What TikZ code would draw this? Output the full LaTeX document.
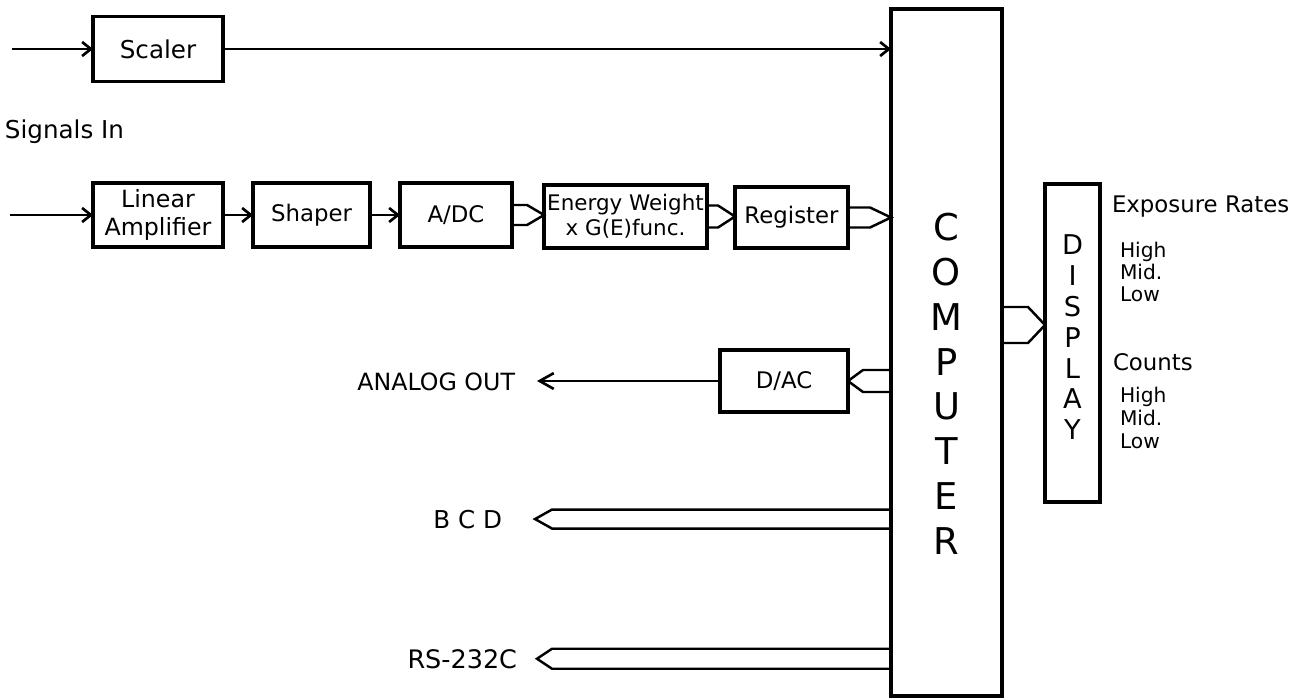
\documentclass[tikz,border=0pt]{standalone}
\usepackage{fontspec}
\setmainfont{DejaVu Sans}
\usetikzlibrary{arrows.meta, calc}

\tikzset{
  box/.style={draw, line width=1.8pt, inner sep=0pt, outer sep=0pt, align=center,
    font=\fontsize{13}{15.5}\selectfont},
  busline/.style={line width=1.4pt, line join=miter},
  sig/.style={->, line width=1.5pt},
  lbl/.style={inner sep=0pt, outer sep=0pt}
}

% hollow bus arrow: start, tip, half width, knee offset
\newcommand{\busarrow}[4]{%
  \draw[busline] ($(#1)+(0,#3)$) -- ($(#2)+(#4,#3)$) -- (#2)
    -- ($(#2)+(#4,-#3)$) -- ($(#1)+(0,-#3)$);}

\begin{document}
\begin{tikzpicture}[x=0.02cm, y=-0.02cm, >={Straight Barb[length=5pt,width=8pt]}]
  \useasboundingbox (0,0) rectangle (1310,699);

  % Signal chain
  \node[box, font=\fontsize{14}{16}\selectfont, minimum width=2.6cm, minimum height=1.3cm] (scaler) at (158,49) {Scaler};
  \node[lbl, font=\fontsize{14}{16}\selectfont, anchor=base west] (signals) at (5,139) {Signals In};
  \node[box, font=\fontsize{13.5}{15.5}\selectfont, minimum width=2.6cm, minimum height=1.28cm] (linamp) at (158,215) {Linear\\Amplifier};
  \node[box, minimum width=2.34cm, minimum height=1.28cm] (shaper) at (311.5,215) {Shaper};
  \node[box, minimum width=2.24cm, minimum height=1.28cm] (adc) at (456,215) {A/DC};
  \node[box, font=\fontsize{12.2}{14}\selectfont, minimum width=3.26cm, minimum height=1.26cm] (energy) at (625.5,216.5) {Energy Weight\\x G(E)func.};
  \node[box, minimum width=2.26cm, minimum height=1.22cm] (reg) at (791.5,217.5) {Register};
  \node[box, minimum width=2.56cm, minimum height=1.24cm] (dac) at (784,381) {D/AC};

  % Computer and display
  \node[box, minimum width=2.22cm, minimum height=13.74cm] (comp) at (946.5,352.5) {};
  \foreach \ch [count=\i from 0] in {C,O,M,P,U,T,E,R}
    \node[lbl, font=\fontsize{21}{21}\selectfont] (comp\i) at (946.5,{227+44.9*\i}) {\ch};
  \node[box, minimum width=1.1cm, minimum height=6.36cm] (disp) at (1072.5,343) {};
  \foreach \ch [count=\i from 0] in {D,I,S,P,L,A,Y}
    \node[lbl, font=\fontsize{15.5}{15.5}\selectfont] (disp\i) at (1072.5,{245+30.8*\i}) {\ch};

  % Inputs and arrows
  \coordinate (in1) at (12,49);
  \coordinate (in2) at (10,215);
  \draw[sig] (in1) -- (scaler.west);
  \draw[sig] (scaler.east) -- (scaler.east -| comp.west);
  \draw[sig] (in2) -- (linamp.west);
  \draw[sig] (linamp.east) -- (shaper.west);
  \draw[sig] (shaper.east) -- (adc.west);

  % Buses
  \coordinate (tipE) at (energy.west |- adc.east);
  \busarrow{adc.east}{tipE}{10}{-17}
  \coordinate (tipR) at (reg.west |- energy.east);
  \busarrow{energy.east}{tipR}{11}{-17}
  \coordinate (tipC) at (comp.west |- reg.east);
  \busarrow{reg.east}{tipC}{10}{-21}
  \coordinate (tipD) at ($(disp.west)+(0,-18)$);
  \coordinate (outD) at (comp.east |- tipD);
  \busarrow{outD}{tipD}{18}{-17}
  \coordinate (outA) at (comp.west |- dac.east);
  \busarrow{outA}{dac.east}{11}{15}

  % Outputs
  \node[lbl, font=\fontsize{13.5}{16}\selectfont, anchor=base east] (analog) at (515,390) {ANALOG OUT};
  \coordinate (tipAO) at ($(analog.east)+(22,0)$);
  \draw[sig, -{Straight Barb[length=8pt,width=9pt]}] (dac.west) -- (dac.west -| tipAO);

  \node[lbl, font=\fontsize{14}{16}\selectfont, anchor=base east] (bcd) at (502,528) {B C D};
  \coordinate (tipB) at ($(bcd.east)+(33,0)$);
  \coordinate (outB) at (comp.west |- tipB);
  \busarrow{outB}{tipB}{9.5}{17}

  \node[lbl, font=\fontsize{14.5}{16}\selectfont, anchor=base east] (rs) at (517,668) {RS-232C};
  \coordinate (tipS) at ($(rs.east)+(20,0)$);
  \coordinate (outS) at (comp.west |- tipS);
  \busarrow{outS}{tipS}{10}{15}

  % Display readouts
  \node[lbl, font=\fontsize{13}{15}\selectfont, anchor=base west] (exprate) at (1112,213) {Exposure Rates};
  \foreach \lv/\yy [count=\i] in {High/257, Mid./279, Low/301}
    \node[lbl, font=\fontsize{11.5}{13}\selectfont, anchor=base west] (er\i) at (1120,\yy) {\lv};
  \node[lbl, font=\fontsize{13}{15}\selectfont, anchor=base west] (counts) at (1113,370) {Counts};
  \foreach \lv/\yy [count=\i] in {High/402, Mid./425, Low/448}
    \node[lbl, font=\fontsize{11.5}{13}\selectfont, anchor=base west] (ct\i) at (1120,\yy) {\lv};
\end{tikzpicture}
\end{document}
